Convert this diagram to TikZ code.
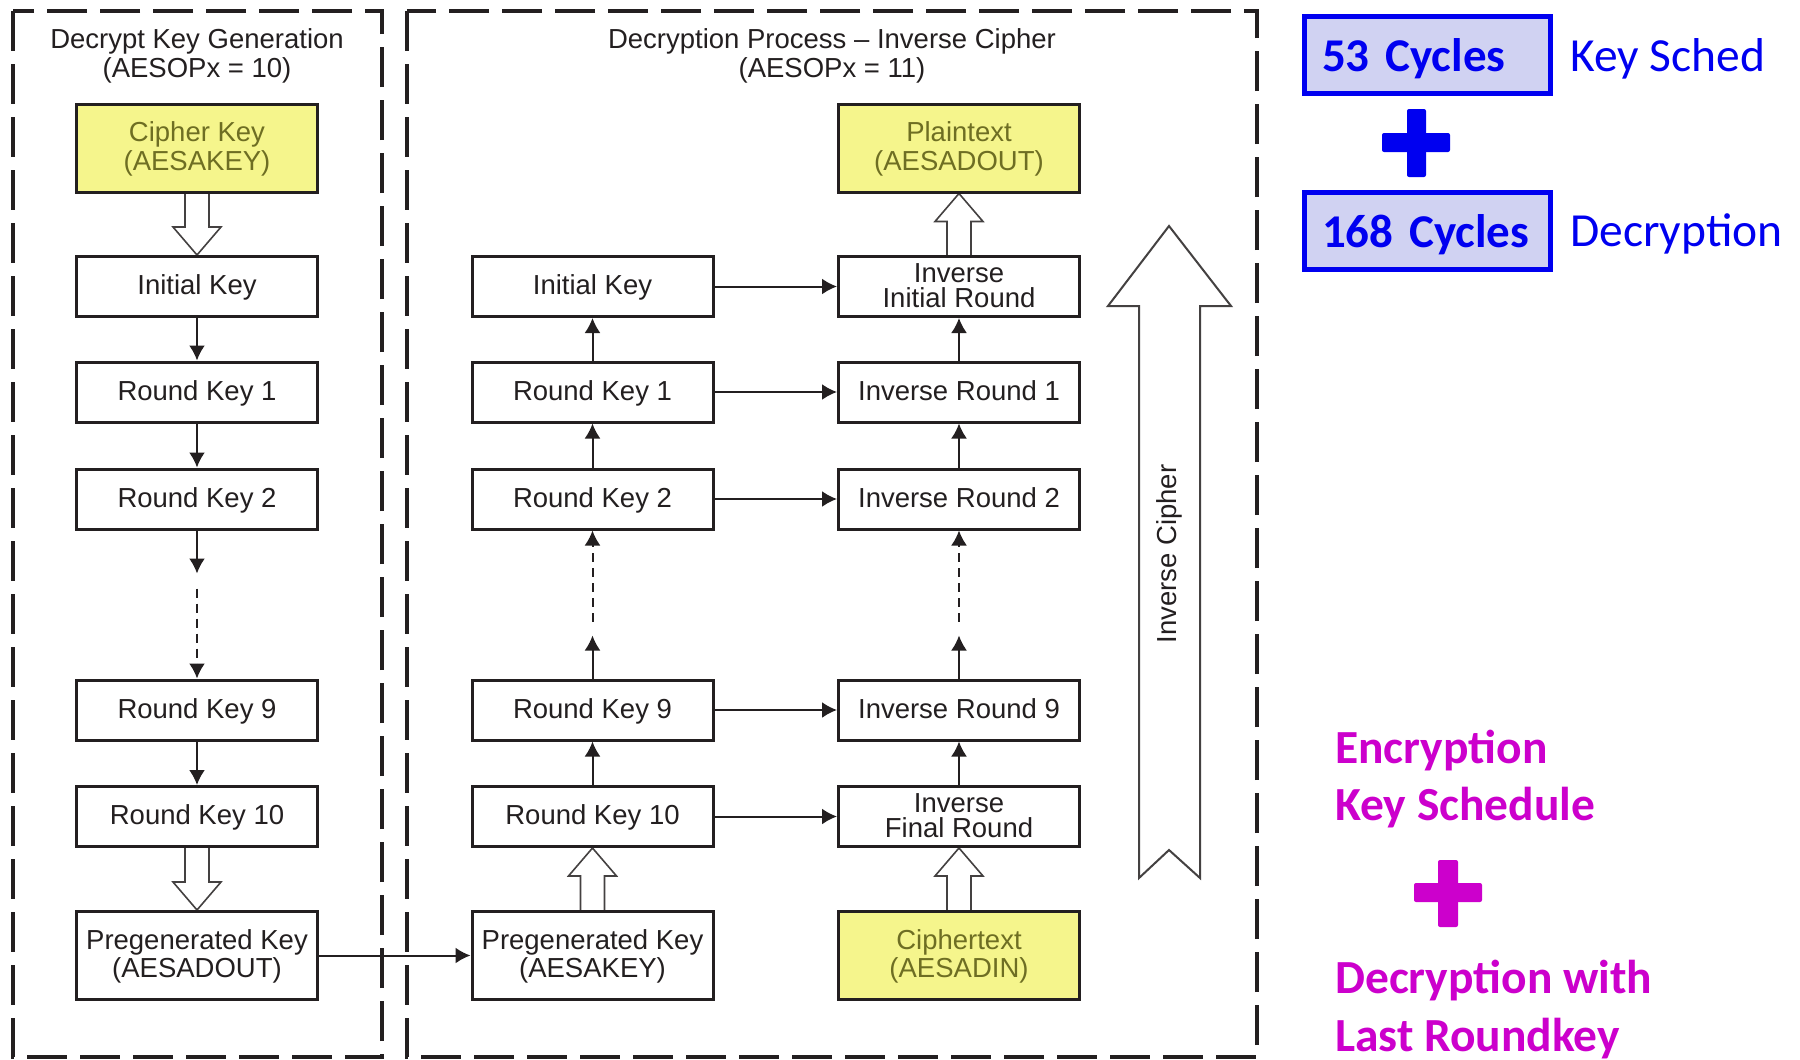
\documentclass[tikz,border=0pt]{standalone}
\usepackage{fontspec}
\setmainfont{Liberation Sans}
\newfontfamily\carlito{Carlito}
\usetikzlibrary{arrows.meta,calc,backgrounds}

\definecolor{ink}{RGB}{35,31,32}
\definecolor{keyyellow}{RGB}{245,245,140}
\definecolor{olivetext}{RGB}{110,110,35}
\definecolor{cycblue}{RGB}{0,0,240}
\definecolor{cycfill}{RGB}{208,210,242}
\definecolor{magentatext}{RGB}{204,0,204}

% hollow block arrows between two boxes of one column
\newcommand\blkdown[2]{%
  \draw[hollow] ($(#1.south)+(-12,0)$) -- ($(#2.north)+(-12,-28)$) -- ($(#2.north)+(-24,-28)$)
    -- (#2.north) -- ($(#2.north)+(24,-28)$) -- ($(#2.north)+(12,-28)$) -- ($(#1.south)+(12,0)$);}
\newcommand\blkup[2]{%
  \draw[hollow] ($(#1.north)+(-12,0)$) -- ($(#2.south)+(-12,28)$) -- ($(#2.south)+(-24,28)$)
    -- (#2.south) -- ($(#2.south)+(24,28)$) -- ($(#2.south)+(12,28)$) -- ($(#1.north)+(12,0)$);}

\begin{document}
\begin{tikzpicture}[x=1pt,y=-1pt,
  diag/.style={font=\fontsize{27.5}{28.5}\selectfont, text=ink},
  kbox/.style={diag, draw=ink, line width=3pt, fill=white, minimum width=241pt,
    minimum height=60pt, inner sep=0pt, align=center, text depth=3pt},
  tallbox/.style={kbox, minimum height=88pt, text depth=4pt},
  twoline/.style={kbox, font=\fontsize{27.5}{25}\selectfont, text depth=1pt},
  iobox/.style={tallbox, fill=keyyellow, text=olivetext},
  titletext/.style={diag, font=\fontsize{27.5}{29.5}\selectfont, align=center, anchor=north, inner sep=0pt},
  arr/.style={draw=ink, line width=2pt, -{Latex[length=15pt,width=16pt]}},
  dasharr/.style={arr, dash pattern=on 9pt off 6pt},
  hollow/.style={draw=ink!85, line width=1.6pt, fill=white, line join=miter},
  dashframe/.style={draw=ink, line width=3.5pt, dash pattern=on 40pt off 13pt},
  cycbox/.style={draw=cycblue, line width=5pt, fill=cycfill, minimum width=246pt,
    minimum height=77pt, inner xsep=17.5pt, inner ysep=0pt, text width=211pt, align=left,
    text=cycblue, font=\carlito\bfseries\fontsize{47}{50}\selectfont,
    text height=36pt, text depth=3pt},
  cyclabel/.style={text=cycblue, font=\carlito\fontsize{47.5}{50}\selectfont,
    inner sep=0pt, anchor=base west},
  pinklabel/.style={text=magentatext, font=\carlito\bfseries\fontsize{47.5}{50}\selectfont,
    inner sep=0pt, anchor=base west}
]
\useasboundingbox (0,0) rectangle (1800,1060);

% ---------- titles ----------
\node[titletext] (ltitle) at (197,28) {Decrypt Key Generation\\(AESOPx = 10)};
\node[titletext] (mtitle) at (832,28) {Decryption Process -- Inverse Cipher\\(AESOPx = 11)};

% ---------- key generation column ----------
\node[iobox]   (lck)   at (197,148)   {Cipher Key\\(AESAKEY)};
\node[kbox]    (lik)   at (197,286.5) {Initial Key};
\node[kbox]    (lrk1)  at (197,392)   {Round Key 1};
\node[kbox]    (lrk2)  at (197,499)   {Round Key 2};
\node[kbox]    (lrk9)  at (197,710)   {Round Key 9};
\node[kbox]    (lrk10) at (197,816.5) {Round Key 10};
\node[tallbox] (lpg)   at (197,955.5) {Pregenerated Key\\(AESADOUT)};

% ---------- round key column of the inverse cipher ----------
\node[kbox]    (mik)   at (592.5,286.5) {Initial Key};
\node[kbox]    (mrk1)  at (592.5,392)   {Round Key 1};
\node[kbox]    (mrk2)  at (592.5,499)   {Round Key 2};
\node[kbox]    (mrk9)  at (592.5,710)   {Round Key 9};
\node[kbox]    (mrk10) at (592.5,816.5) {Round Key 10};
\node[tallbox] (mpg)   at (592.5,955.5) {Pregenerated Key\\(AESAKEY)};

% ---------- round column of the inverse cipher ----------
\node[iobox]   (rpt)   at (959,148)   {Plaintext\\(AESADOUT)};
\node[twoline] (rinit) at (959,286.5) {Inverse\\Initial Round};
\node[kbox]    (rr1)   at (959,392)   {Inverse Round 1};
\node[kbox]    (rr2)   at (959,499)   {Inverse Round 2};
\node[kbox]    (rr9)   at (959,710)   {Inverse Round 9};
\node[twoline] (rfin)  at (959,816.5) {Inverse\\Final Round};
\node[iobox]   (rct)   at (959,955.5) {Ciphertext\\(AESADIN)};

% ---------- free ends of the elided steps ----------
\coordinate (lgapA) at ($(lrk2.south)+(0,43)$);
\coordinate (lgapB) at ($(lrk9.north)+(0,-90)$);
\coordinate (mgapA) at ($(mrk9.north)+(0,-43)$);
\coordinate (mgapB) at ($(mrk2.south)+(0,91)$);
\coordinate (rgapA) at ($(rr9.north)+(0,-43)$);
\coordinate (rgapB) at ($(rr2.south)+(0,91)$);

% ---------- key expansion chain ----------
\draw[arr] (lik.south) -- (lrk1.north);
\draw[arr] (lrk1.south) -- (lrk2.north);
\draw[arr] (lrk2.south) -- (lgapA);
\draw[dasharr] (lgapB) -- (lrk9.north);
\draw[arr] (lrk9.south) -- (lrk10.north);

% ---------- round keys used in reverse order ----------
\draw[arr] (mrk10.north) -- (mrk9.south);
\draw[arr] (mrk9.north) -- (mgapA);
\draw[dasharr] (mgapB) -- (mrk2.south);
\draw[arr] (mrk2.north) -- (mrk1.south);
\draw[arr] (mrk1.north) -- (mik.south);

\draw[arr] (rfin.north) -- (rr9.south);
\draw[arr] (rr9.north) -- (rgapA);
\draw[dasharr] (rgapB) -- (rr2.south);
\draw[arr] (rr2.north) -- (rr1.south);
\draw[arr] (rr1.north) -- (rinit.south);

% ---------- key to round ----------
\draw[arr] (mik.east) -- (rinit.west);
\draw[arr] (mrk1.east) -- (rr1.west);
\draw[arr] (mrk2.east) -- (rr2.west);
\draw[arr] (mrk9.east) -- (rr9.west);
\draw[arr] (mrk10.east) -- (rfin.west);
\draw[arr] (lpg.east) -- (mpg.west);

% ---------- overall direction of the inverse cipher ----------
\draw[hollow, line width=2pt] (1139,878) -- (1139,306) -- (1108,306) -- (1169,226)
  -- (1231,306) -- (1200,306) -- (1200,878) -- (1169,850) -- cycle;
\node[diag, rotate=90] (invc) at (1169,554) {Inverse Cipher};

% ---------- background: frames and block arrows ----------
\begin{scope}[on background layer]
  \fill[white] (0,0) rectangle (1800,1060);
  \draw[dashframe] (13,11) rectangle (382,1057);
  \draw[dashframe] (407,11) rectangle (1257,1057);
  \blkdown{lck}{lik}
  \blkdown{lrk10}{lpg}
  \blkup{mpg}{mrk10}
  \blkup{rct}{rfin}
  \blkup{rinit}{rpt}
\end{scope}

% ---------- cycle counts ----------
\node[cycbox] (c53)  at (1427.5,54.5) {53 Cycles};
\node[cycbox] (c168) at (1427.5,231)  {168 Cycles};
\node[cyclabel] (lks)  at (1570,71)  {Key Sched};
\node[cyclabel] (ldec) at (1570,246) {Decryption};
\fill[cycblue, rounded corners=2pt] (1407,109) rectangle (1426,177);
\fill[cycblue, rounded corners=2pt] (1382,133) rectangle (1450,152);

% ---------- summary ----------
\node[pinklabel] (p1) at (1335,763)  {Encryption};
\node[pinklabel] (p2) at (1335,820)  {Key Schedule};
\fill[magentatext, rounded corners=2pt] (1438,860) rectangle (1458,927);
\fill[magentatext, rounded corners=2pt] (1414,883) rectangle (1482,902);
\node[pinklabel] (p3) at (1335,993)  {Decryption with};
\node[pinklabel] (p4) at (1335,1051) {Last Roundkey};
\end{tikzpicture}
\end{document}
